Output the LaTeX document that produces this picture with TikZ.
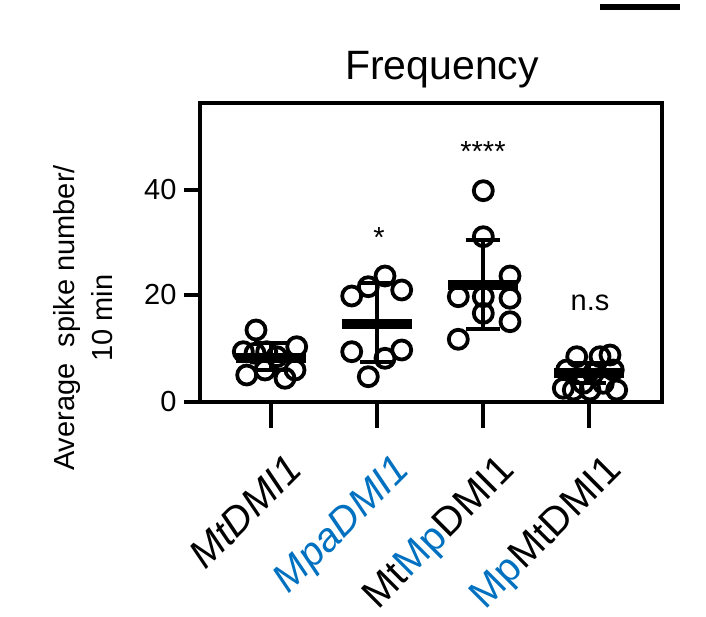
\documentclass[tikz,border=0pt]{standalone}
\usepackage{fontspec}
\setmainfont{Liberation Sans}
\usetikzlibrary{positioning}
\definecolor{mpblue}{HTML}{0070C0}

\begin{document}
\begin{tikzpicture}[x=1pt,y=-1pt]
    % Setup the styles
    \tikzset{point/.style={line width=3.8pt},
             meanbar/.style={line width=10pt},
             sdbar/.style={line width=3.8pt},
             axis/.style={line width=3.8pt},
             ticklabel/.style={font=\fontsize{29}{31}\selectfont},
             grouplabel/.style={font=\fontsize{40}{42}\selectfont, rotate=45, anchor=north east, inner sep=0pt}}
    \useasboundingbox (0,0) rectangle (706,617);
    % Scale bar and title
    \draw[line width=6pt] (600,7) -- (680,7);
    \node[font=\fontsize{41}{43}\selectfont] (title) at (442,70) {Frequency};
    % Axes
    \draw[axis] (200,103) rectangle (662,402);
    \foreach \v/\y in {0/402,20/295,40/190} {
        \draw[axis] (200,\y) -- (184,\y);
        \node[ticklabel, anchor=east] (y\v) at (180,\y) {\v};
    }
    \foreach \x in {270.7,376.7,483.3,589.3}
        \draw[axis] (\x,402) -- (\x,428);
    \node[ticklabel, rotate=90] (ylab1) at (67,318) {Average\ \ spike number/};
    \node[ticklabel, rotate=90] (ylab2) at (102,318) {10 min};
    % Mean and SD
    \foreach \c/\m/\t/\b in {270.7/358.3/343.3/370, 376.7/324/283.3/361.7,
                             483.3/285/240/329.3, 589.3/373.3/363/383} {
        \draw[sdbar] (\c,\t) -- (\c,\b);
        \draw[sdbar] (\c-17,\t) -- (\c+17,\t);
        \draw[sdbar] (\c-17,\b) -- (\c+17,\b);
        \draw[meanbar] (\c-35,\m) -- (\c+35,\m);
    }
    % Data points
    \foreach \px/\py in {256/330, 243.3/351.7, 255/353.3, 266.7/351.7, 296.7/346.7,
                         246.7/375, 265/370, 285/378.3, 295/370, 276.7/356.7,
                         351.7/296, 368.3/286.7, 385/276, 401.7/290, 351.7/351.7,
                         385/358.3, 401.7/350, 368.3/376.7,
                         483.3/190.7, 483.3/236.7, 510/276, 458.3/296.7, 483.3/296.7,
                         510/298.3, 483.3/313.3, 510/321.7, 458.3/339.3,
                         563.3/388.3, 576.7/356.7, 600/356.7, 610/355, 616.7/390,
                         583.3/383.3, 603.3/383.3, 566.7/370, 593.3/373.3, 613.3/370,
                         573.3/390, 590/390}
        \draw[point] (\px,\py) circle[radius=9.5];
    % Significance
    \node[ticklabel] (s2) at (379,238) {*};
    \node[ticklabel] (s3) at (483,152) {****};
    \node[ticklabel] (s4) at (590,303) {n.s};
    % Group labels
    \node[grouplabel] (g1) at (285,452) {\itshape MtDMI1};
    \node[grouplabel, text=mpblue] (g2) at (392,452) {\itshape MpaDMI1};
    \node[grouplabel] (g3) at (497,452) {Mt\textcolor{mpblue}{Mp}DMI1};
    \node[grouplabel] (g4) at (604,452) {\textcolor{mpblue}{Mp}MtDMI1};
\end{tikzpicture}
\end{document}
